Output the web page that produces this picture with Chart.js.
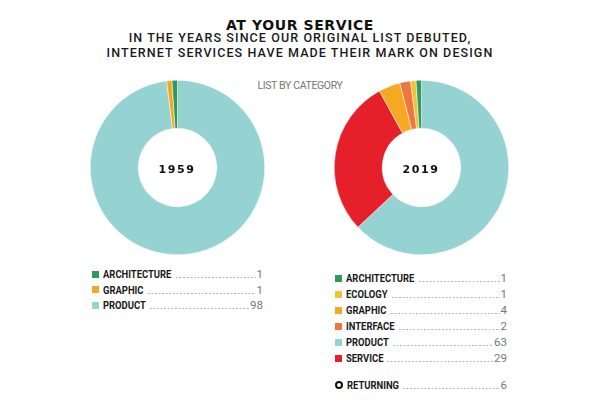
<!DOCTYPE html>
<html>
<head>
<meta charset="utf-8">
<script src="https://cdn.jsdelivr.net/npm/chart.js@4.4.0/dist/chart.umd.min.js"></script>
<style>
  html, body { margin:0; padding:0; background:#fff; }
  #wrap { position:relative; width:600px; height:400px; overflow:hidden; background:#fff; }
  .abs { position:absolute; }
  #title { left:0; width:600px; top:15.5px; text-align:center; font-family:"DejaVu Sans", sans-serif; font-weight:bold; font-size:14px; letter-spacing:0.6px; color:#111; line-height:18px; }
  .sub { left:0; width:600px; text-align:center; font-family:Roboto, sans-serif; font-weight:500; font-size:12.5px; letter-spacing:1.1px; color:#1a1a1a; line-height:14px; }
  #listby { left:0; width:600px; top:79px; text-align:center; font-family:Roboto, sans-serif; font-size:10.5px; color:#777; letter-spacing:-0.35px; }
  .year { font-family:"DejaVu Sans", sans-serif; font-weight:bold; font-size:11px; letter-spacing:1.6px; color:#111; text-align:center; width:80px; line-height:12px; }
  .legend { font-family:Roboto, sans-serif; }
  .row { position:absolute; display:flex; align-items:center; height:14px; }
  .sw { width:7px; height:7px; margin-right:4px; flex:none; }
  .ring { width:4px; height:4px; border:2.3px solid #111; border-radius:50%; margin-right:4px; flex:none; }
  .lab { display:inline-block; font-weight:bold; font-size:11.5px; color:#1a1a1a; flex:none; transform:scaleX(0.82); transform-origin:left center; }
  .dots { flex:1; height:10px; margin:0 1px 0 3px; background-image:radial-gradient(circle, #b0b0b0 0.7px, transparent 0.9px); background-size:3.6px 3px; background-repeat:repeat-x; background-position:left bottom; }
  .val { font-size:11.5px; color:#777; flex:none; }
</style>
</head>
<body>
<div id="wrap">
  <div id="title" class="abs">AT YOUR SERVICE</div>
  <div class="abs sub" style="top:31px;">IN THE YEARS SINCE OUR ORIGINAL LIST DEBUTED,</div>
  <div class="abs sub" style="top:46px;">INTERNET SERVICES HAVE MADE THEIR MARK ON DESIGN</div>
  <div id="listby" class="abs">LIST BY CATEGORY</div>
  <canvas id="c1959" class="abs" width="175" height="175" style="left:89.5px; top:80px;"></canvas>
  <canvas id="c2019" class="abs" width="175" height="175" style="left:333.5px; top:80px;"></canvas>
  <div id="y1959" class="abs year" style="left:137px; top:164px;"></div>
  <div id="y2019" class="abs year" style="left:381px; top:164px;"></div>
  <div id="leg1959" class="legend"></div>
  <div id="leg2019" class="legend"></div>
</div>
<script>
// ---- Data ----
const categories1959 = ['ARCHITECTURE', 'GRAPHIC', 'PRODUCT'];
const values1959 = [1, 1, 98];
const sliceOrder1959 = ['PRODUCT', 'GRAPHIC', 'ARCHITECTURE'];

const categories2019 = ['ARCHITECTURE', 'ECOLOGY', 'GRAPHIC', 'INTERFACE', 'PRODUCT', 'SERVICE'];
const values2019 = [1, 1, 4, 2, 63, 29];
const sliceOrder2019 = ['PRODUCT', 'SERVICE', 'GRAPHIC', 'INTERFACE', 'ECOLOGY', 'ARCHITECTURE'];

const returningLabel = 'RETURNING';
const returning2019 = 6;

const yearLabels = ['1959', '2019'];

const categoryColors = {
  ARCHITECTURE: '#2f9a5c',
  ECOLOGY: '#efc430',
  GRAPHIC: '#f6a821',
  INTERFACE: '#ec7840',
  PRODUCT: '#95d2d2',
  SERVICE: '#e6202b'
};

document.getElementById('y1959').textContent = yearLabels[0];
document.getElementById('y2019').textContent = yearLabels[1];

// ---- Charts ----
function makeDonut(id, cats, vals, order) {
  const map = {};
  cats.forEach((c, i) => map[c] = vals[i]);
  new Chart(document.getElementById(id), {
    type: 'doughnut',
    data: {
      labels: order,
      datasets: [{
        data: order.map(c => map[c]),
        backgroundColor: order.map(c => categoryColors[c]),
        borderColor: '#ffffff',
        borderWidth: 0.5
      }]
    },
    options: {
      responsive: false,
      animation: false,
      cutout: '45%',
      layout: { padding: 0 },
      plugins: { legend: { display: false }, tooltip: { enabled: false } }
    }
  });
}
makeDonut('c1959', categories1959, values1959, sliceOrder1959);
makeDonut('c2019', categories2019, values2019, sliceOrder2019);

// ---- Legends ----
const SX = 0.82;
function addRow(host, left, width, y, markHtml, label, value) {
  const r = document.createElement('div');
  r.className = 'row';
  r.style.left = left + 'px';
  r.style.width = width + 'px';
  r.style.top = (y - 7) + 'px';
  r.innerHTML = markHtml + '<span class="lab">' + label + '</span><span class="dots"></span><span class="val">' + value + '</span>';
  host.appendChild(r);
  const lab = r.querySelector('.lab');
  lab.style.marginRight = (-lab.offsetWidth * (1 - SX)) + 'px';
}
function makeLegend(id, cats, vals, left, width, top0, step, extra) {
  const host = document.getElementById(id);
  cats.forEach((c, i) => {
    addRow(host, left, width, top0 + i * step,
      '<span class="sw" style="background:' + categoryColors[c] + '"></span>', c, vals[i]);
  });
  if (extra) {
    addRow(host, left, width, extra.y, '<span class="ring"></span>', extra.label, extra.value);
  }
}
makeLegend('leg1959', categories1959, values1959, 92, 171, 274, 15.7, null);
makeLegend('leg2019', categories2019, values2019, 335, 172, 278, 16, { label: returningLabel, value: returning2019, y: 385 });
</script>
</body>
</html>
